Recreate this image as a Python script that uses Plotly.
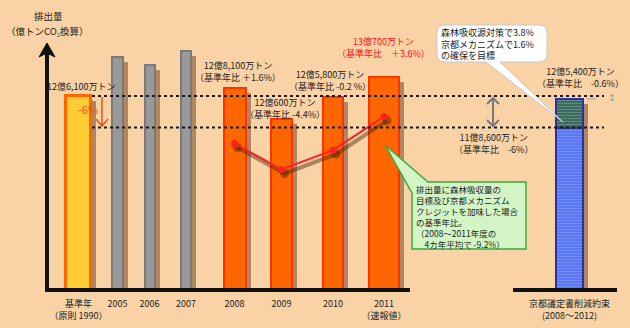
import plotly.graph_objects as go

# ---- data (emissions in million t-CO2) ----
categories = ["基準年<br>（原則 1990）", "2005", "2006", "2007",
              "2008", "2009", "2010", "2011<br>（速報値）"]
emissions = [1261, 1353, 1334, 1369, 1281, 1206, 1258, 1307]
adj_years = ["2008", "2009", "2010", "2011<br>（速報値）"]
adjusted = [1148, 1086, 1132, 1212]          # incl. forest sinks & Kyoto credits
kyoto_label = "京都議定書削減約束<br>(2008～2012)"
kyoto_target = 1186                            # -6 %
kyoto_with_offsets = 1254                      # -0.6 %
base_year_value = emissions[0]

# ---- layout geometry (pixel-based x axis, truncated y axis) ----
W, H = 630, 328
PLOT_BOTTOM = 296
K = 0.42                     # px per Mt
REF_PX = 96                  # screen row of the base-year level


def vy(py):
    """screen row -> value on the y axis"""
    return base_year_value - (py - REF_PX) / K


Y_TOP, Y_BOT, AXIS_BASE = vy(0), vy(PLOT_BOTTOM), vy(290)

x_pos = [78.5, 117.5, 149.5, 186, 234.5, 281.5, 333, 384]
widths = [25, 11, 10, 10, 22, 21, 20, 30]
kyoto_x, kyoto_w = 569.5, 27

fills = ["#FFCC33"] + ["#999999"] * 3 + ["#FF6600"] * 4
edges = ["#FF6600"] + ["#7A7A7A"] * 3 + ["#FF3300"] * 4
edge_w = [3, 2, 2, 2, 2, 2, 2, 2]

TXT = "#222222"
FONT = "Noto Sans CJK JP"
SHADOW = "rgba(85,45,15,0.45)"

fig = go.Figure()

# drop shadows behind the bars
fig.add_trace(go.Bar(
    x=[p + 5 for p in x_pos] + [kyoto_x + 5],
    y=[v - AXIS_BASE - 5 / K for v in emissions] + [kyoto_with_offsets - AXIS_BASE - 5 / K],
    base=AXIS_BASE, width=widths + [kyoto_w],
    marker=dict(color=SHADOW, line=dict(width=0)),
    hoverinfo="skip", showlegend=False))

# annual emissions
fig.add_trace(go.Bar(
    x=x_pos, y=[v - AXIS_BASE for v in emissions], base=AXIS_BASE, width=widths,
    marker=dict(color=fills, line=dict(color=edges, width=edge_w)),
    showlegend=False))

# Kyoto commitment bar: target part + forest/credit part
fig.add_trace(go.Bar(
    x=[kyoto_x], y=[kyoto_target - AXIS_BASE], base=AXIS_BASE, width=kyoto_w,
    marker=dict(color="#5B78EE", line=dict(color="#2A2FA5", width=2),
                pattern=dict(shape="-", fgcolor="#8EA6FF", size=3, solidity=0.3)),
    showlegend=False))
fig.add_trace(go.Bar(
    x=[kyoto_x], y=[kyoto_with_offsets - kyoto_target], base=kyoto_target, width=kyoto_w,
    marker=dict(color="#3B6A5E", line=dict(color="#2A2FA5", width=2),
                pattern=dict(shape="-", fgcolor="#8DB3A6", size=3, solidity=0.3)),
    showlegend=False))

# adjusted emissions line (with shadow), placed on the 2008-2011 bars
adj_x = [x_pos[categories.index(y)] for y in adj_years]
fig.add_trace(go.Scatter(
    x=[x + 3 for x in adj_x], y=[v - 4 / K for v in adjusted], mode="lines+markers",
    line=dict(color="rgba(70,35,10,0.45)", width=4),
    marker=dict(size=9, color="rgba(70,35,10,0.45)"),
    hoverinfo="skip", showlegend=False))
fig.add_trace(go.Scatter(
    x=adj_x, y=adjusted, mode="lines+markers",
    line=dict(color="#FF2020", width=2),
    marker=dict(size=7, color="#FF2020"),
    showlegend=False))


def P(x, py):
    return f"{x},{vy(py)}"


shapes = []
# reference levels
for lvl in (base_year_value, kyoto_target):
    shapes.append(dict(type="line", xref="x", yref="y", x0=92, x1=604, y0=lvl, y1=lvl,
                       line=dict(color="#1A1A1A", width=2, dash="dot"), layer="above"))
shapes.append(dict(type="line", xref="x", yref="y", x0=587, x1=605,
                   y0=kyoto_with_offsets, y1=kyoto_with_offsets,
                   line=dict(color="#9A9A9A", width=1, dash="dash"), layer="above"))
# baselines
shapes.append(dict(type="line", xref="x", yref="y", x0=45, x1=410, y0=AXIS_BASE, y1=AXIS_BASE,
                   line=dict(color="#111111", width=4), layer="above"))
shapes.append(dict(type="line", xref="x", yref="y", x0=513, x1=617, y0=AXIS_BASE, y1=AXIS_BASE,
                   line=dict(color="#111111", width=4), layer="above"))
# vertical value-axis arrow
shapes.append(dict(type="line", xref="x", yref="y", x0=47, x1=47, y0=AXIS_BASE, y1=vy(52),
                   line=dict(color="#111111", width=4), layer="above"))
shapes.append(dict(type="path", xref="x", yref="y",
                   path=f"M{P(47,43)} L{P(55,57)} L{P(47,53)} L{P(39,57)} Z",
                   fillcolor="#111111", line=dict(color="#111111", width=1), layer="above"))
# -6 % arrow
shapes.append(dict(type="path", xref="x", yref="y",
                   path=f"M{P(102,97)} L{P(102,126)} M{P(96,119)} L{P(102,126)} L{P(108,119)}",
                   line=dict(color="#E2571E", width=1.5), layer="above"))
# gap double arrow
shapes.append(dict(type="path", xref="x", yref="y",
                   path=(f"M{P(493,98)} L{P(493,126)} M{P(487,104)} L{P(493,98)} L{P(499,104)} "
                         f"M{P(487,120)} L{P(493,126)} L{P(499,120)}"),
                   line=dict(color="#7A7A7A", width=2), layer="above"))
# white callout
shapes.append(dict(type="path", xref="x", yref="y",
                   path=(f"M{P(445,25)} L{P(539,25)} Q{P(547,25)} {P(547,33)} L{P(547,54)} "
                         f"Q{P(547,62)} {P(539,62)} L{P(500,62)} L{P(563,122)} L{P(486,62)} "
                         f"L{P(445,62)} Q{P(437,62)} {P(437,54)} L{P(437,33)} Q{P(437,25)} {P(445,25)} Z"),
                   fillcolor="#FFFFFF", line=dict(color="#C8C8C8", width=1), layer="above"))
# green callout
shapes.append(dict(type="path", xref="x", yref="y",
                   path=(f"M{P(428,182)} L{P(526,182)} L{P(526,249)} L{P(412,249)} "
                         f"L{P(412,193)} L{P(385,145)} Z"),
                   fillcolor="#D3F5C6", line=dict(color="#3AAA3A", width=1.5), layer="above"))

anns = []


def txt(text, x, py, size=9, color=TXT, align="center", xanchor="center"):
    anns.append(dict(text=text, x=x, y=vy(py), xref="x", yref="y", showarrow=False,
                     xanchor=xanchor, yanchor="middle", align=align, borderpad=0,
                     font=dict(family=FONT, size=size, color=color)))


txt("排出量", 48, 15.5, size=9.5)
txt("（億トンCO₂換算）", 47, 30.5, size=9.5)
txt("12億6,100万トン", 81, 86)
txt("-6%", 88, 109, size=11, color="#E2571E")
txt("12億8,100万トン<br>（基準年比 ＋1.6%）", 238, 71)
txt("12億600万トン<br>（基準年比 -4.4%）", 285, 108)
txt("12億5,800万トン<br>（基準年比 -0.2 %）", 330, 80.5)
txt("13億700万トン<br>（基準年比　＋3.6%）", 383, 47, color="#FF1010")
txt("11億8,600万トン<br>（基準年比　-6%）", 493, 143.5)
txt("12億5,400万トン<br>（基準年比　-0.6%）", 580, 77)
txt("↕", 612, 97, size=8, color="#8A8A8A")
txt("森林吸収源対策で3.8%<br>京都メカニズムで1.6%<br>の確保を目標",
    440, 44, size=9, align="left", xanchor="left")
txt("排出量に森林吸収量の<br>目標及び京都メカニズム<br>クレジットを加味した場合<br>"
    "の基準年比。<br>（2008～2011年度の<br>　4カ年平均で -9.2%）",
    415, 216, size=8.5, align="left", xanchor="left")

fig.update_layout(
    width=W, height=H, margin=dict(l=0, r=0, t=0, b=H - PLOT_BOTTOM, autoexpand=False),
    paper_bgcolor="#F9D3A6", plot_bgcolor="#F9D3A6",
    barmode="overlay", bargap=0, showlegend=False,
    shapes=shapes, annotations=anns,
    xaxis=dict(range=[0, W], tickvals=x_pos + [kyoto_x], ticktext=categories + [kyoto_label],
               showgrid=False, zeroline=False, showline=False, ticks="",
               tickangle=0, automargin=False, ticklabelstandoff=1,
               tickfont=dict(family=FONT, size=9, color=TXT), fixedrange=True),
    yaxis=dict(range=[Y_BOT, Y_TOP], visible=False, fixedrange=True, automargin=False),
)

fig.write_html("out.html")
